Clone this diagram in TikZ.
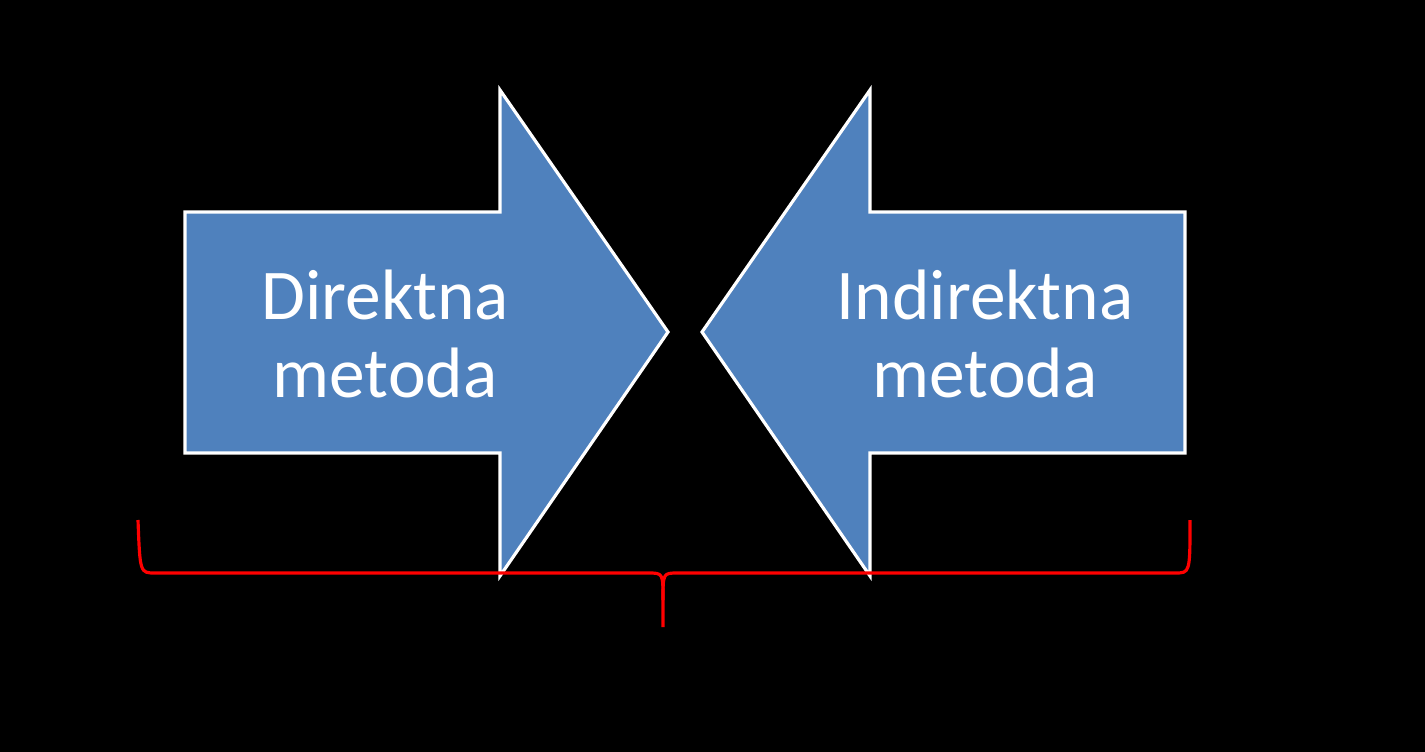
\documentclass[tikz,border=0pt]{standalone}
\usepackage{fontspec}
\setmainfont{Carlito}
\begin{document}
\begin{tikzpicture}[x=0.01cm,y=-0.01cm,
  arrowshape/.style={fill={rgb,255:red,79;green,129;blue,189},draw=white,line width=0.9pt,line join=miter},
  lbl/.style={text=white,font=\fontsize{20.3}{22}\selectfont,align=center},
  bracepath/.style={draw=red,line width=0.9pt}]
\fill[black] (0,0) rectangle (1425,752);
\useasboundingbox (0,0) rectangle (1425,752);
\draw[arrowshape] (185,212) -- (500,212) -- (500,90) -- (668,332) -- (500,576) -- (500,453) -- (185,453) -- cycle;
\draw[arrowshape] (1185,212) -- (870,212) -- (870,90) -- (702,332) -- (870,576) -- (870,453) -- (1185,453) -- cycle;
\node[lbl] (d) at (385,334) {Direktna\\metoda};
\node[lbl] (i) at (985,334) {Indirektna\\metoda};
\draw[bracepath] (138,520) .. controls (140,573) .. (155,573) -- (648,573) .. controls (663,573) .. (663,600) -- (663,627);
\draw[bracepath] (663,600) .. controls (663,573) .. (678,573) -- (1175,573) .. controls (1190,573) .. (1190,520);
\end{tikzpicture}
\end{document}
